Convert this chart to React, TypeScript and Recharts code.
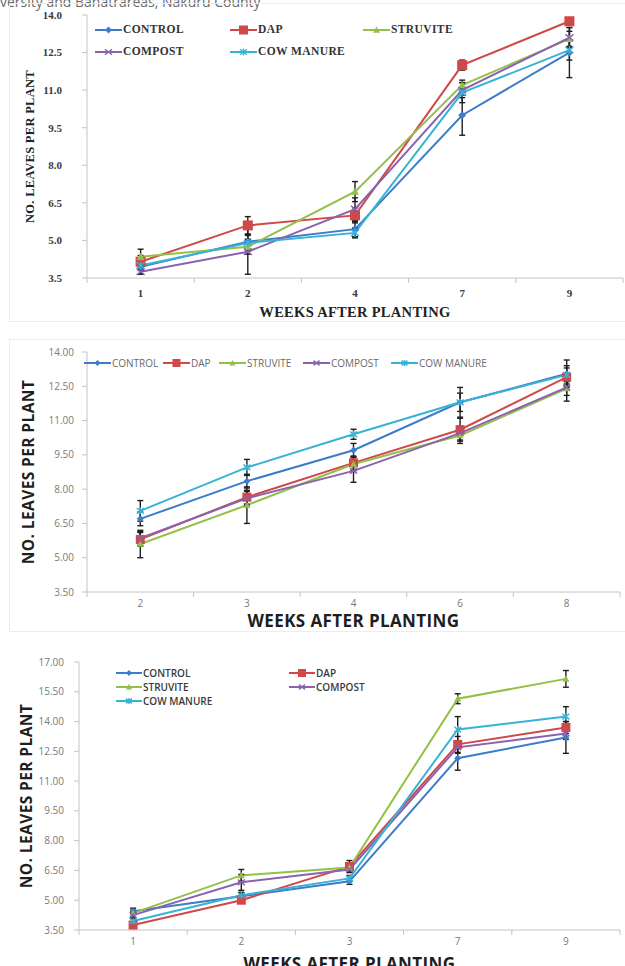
import React from 'react';
import { LineChart, Line, XAxis, YAxis, ErrorBar, Legend } from 'recharts';

// shared series definitions
const seriesKeys = ['control', 'dap', 'struvite', 'compost', 'cow'];
const seriesNames = ['CONTROL', 'DAP', 'STRUVITE', 'COMPOST', 'COW MANURE'];
const seriesColors = ['#3d7cc9', '#d04848', '#93c047', '#8a62b0', '#36b3d6'];
const seriesShapes = ['diamond', 'square', 'triangle', 'x', 'star'];

// chart A (top)
const weeksA = ['1', '2', '4', '7', '9'];
const controlA = [3.95, 4.95, 5.45, 10.0, 12.5];
const dapA = [4.15, 5.6, 6.0, 12.0, 13.75];
const struviteA = [4.35, 4.75, 6.95, 11.2, 13.05];
const compostA = [3.75, 4.55, 6.25, 11.0, 13.1];
const cowA = [4.0, 4.9, 5.3, 10.9, 12.6];
const controlErrA = [0.3, 0.3, 0.3, 0.8, 1.0];
const dapErrA = [0.25, 0.35, 0.3, 0.2, 0.1];
const struviteErrA = [0.3, 0.3, 0.4, 0.2, 0.3];
const compostErrA = [0.1, 0.9, 0.45, 0.3, 0.4];
const cowErrA = [0.2, 0.3, 0.2, 0.4, 0.4];
const yTicksA = [3.5, 5.0, 6.5, 8.0, 9.5, 11.0, 12.5, 14.0];

// chart B (middle)
const weeksB = ['2', '3', '4', '6', '8'];
const controlB = [6.7, 8.35, 9.7, 11.8, 13.05];
const dapB = [5.8, 7.65, 9.15, 10.6, 12.9];
const struviteB = [5.6, 7.3, 9.1, 10.35, 12.4];
const compostB = [5.85, 7.6, 8.8, 10.45, 12.45];
const cowB = [7.05, 8.95, 10.4, 11.8, 13.0];
const controlErrB = [0.3, 0.3, 0.3, 0.65, 0.6];
const dapErrB = [0.3, 0.3, 0.3, 0.5, 0.4];
const struviteErrB = [0.6, 0.8, 0.3, 0.35, 0.3];
const compostErrB = [0.3, 0.3, 0.5, 0.3, 0.6];
const cowErrB = [0.45, 0.35, 0.22, 0.4, 0.4];
const yTicksB = [3.5, 5.0, 6.5, 8.0, 9.5, 11.0, 12.5, 14.0];

// chart C (bottom)
const weeksC = ['1', '2', '3', '7', '9'];
const controlC = [4.45, 5.2, 5.95, 12.15, 13.2];
const dapC = [3.75, 5.0, 6.7, 12.85, 13.7];
const struviteC = [4.35, 6.25, 6.65, 15.15, 16.15];
const compostC = [4.25, 5.9, 6.55, 12.7, 13.4];
const cowC = [3.95, 5.25, 6.1, 13.6, 14.25];
const controlErrC = [0.15, 0.15, 0.15, 0.6, 0.8];
const dapErrC = [0.15, 0.15, 0.3, 0.4, 0.3];
const struviteErrC = [0.15, 0.3, 0.15, 0.25, 0.42];
const compostErrC = [0.15, 0.4, 0.15, 0.3, 0.3];
const cowErrC = [0.15, 0.15, 0.15, 0.65, 0.5];
const yTicksC = [3.5, 5.0, 6.5, 8.0, 9.5, 11.0, 12.5, 14.0, 15.5, 17.0];

const Marker = ({ cx, cy, shape, color, s }: any) => {
  if (cx == null || cy == null) return null;
  switch (shape) {
    case 'diamond':
      return <path d={`M${cx},${cy - s} L${cx + s},${cy} L${cx},${cy + s} L${cx - s},${cy} Z`} fill={color} />;
    case 'square':
      return <rect x={cx - s} y={cy - s} width={2 * s} height={2 * s} fill={color} />;
    case 'triangle':
      return <path d={`M${cx},${cy - s} L${cx + s},${cy + s * 0.8} L${cx - s},${cy + s * 0.8} Z`} fill={color} />;
    case 'x':
      return (
        <path d={`M${cx - s},${cy - s * 0.8} L${cx + s},${cy + s * 0.8} M${cx + s},${cy - s * 0.8} L${cx - s},${cy + s * 0.8}`}
          stroke={color} strokeWidth={1.4} fill="none" />
      );
    default:
      return (
        <path d={`M${cx - s},${cy - s * 0.8} L${cx + s},${cy + s * 0.8} M${cx + s},${cy - s * 0.8} L${cx - s},${cy + s * 0.8} M${cx},${cy - s} L${cx},${cy + s}`}
          stroke={color} strokeWidth={1.4} fill="none" />
      );
  }
};

const buildSeries = (values: number[][], errors: number[][]) =>
  seriesKeys.map((key, i) => ({
    key,
    name: seriesNames[i],
    color: seriesColors[i],
    shape: seriesShapes[i],
    values: values[i],
    errors: errors[i],
  }));

const buildRows = (weeks: string[], series: any[]) =>
  weeks.map((w, i) => {
    const row: any = { pos: i + 1, week: w };
    series.forEach((s) => {
      row[s.key] = s.values[i];
      row[s.key + 'Err'] = s.errors[i];
    });
    return row;
  });

const LegendBox = ({ series, st, columns, rowH, iconW, markerSize }: any) => (
  <div style={{ display: 'grid', gridTemplateColumns: columns, alignItems: 'center' }}>
    {series.map((s: any) => (
      <div key={s.key} style={{ display: 'flex', alignItems: 'center', height: rowH, whiteSpace: 'nowrap' }}>
        <svg width={iconW} height={12} style={{ flex: 'none' }}>
          <line x1={0} y1={6} x2={iconW} y2={6} stroke={s.color} strokeWidth={2} />
          <Marker cx={iconW / 2} cy={6} shape={s.shape} color={s.color} s={s.shape === 'square' ? markerSize + 1 : markerSize} />
        </svg>
        <span style={{
          marginLeft: 1, fontFamily: st.font, fontSize: st.legendSize, fontWeight: st.legendWeight,
          color: st.legendFill, letterSpacing: st.legendSpacing, lineHeight: 1,
        }}>{s.name}</span>
      </div>
    ))}
  </div>
);

const LeafChart = (p: any) => {
  const rows = buildRows(p.weeks, p.series);
  const st = p.st;
  const xTicks = [0.5, 1, 1.5, 2, 2.5, 3, 3.5, 4, 4.5, 5, 5.5];
  const renderTick = (t: any) => {
    const v = t.payload.value;
    if (Number.isInteger(v)) {
      return (
        <text x={t.x} y={t.y + p.catDy} textAnchor="middle" fontFamily={st.font} fontSize={st.tickSize}
          fontWeight={st.tickWeight} fill={st.tickFill}>{p.weeks[v - 1]}</text>
      );
    }
    return <line x1={t.x} y1={t.y} x2={t.x} y2={t.y + 5} stroke="#c4c4c4" strokeWidth={1} />;
  };
  return (
    <div style={{ position: 'absolute', left: 0, top: p.top }}>
      <LineChart width={625} height={p.height} data={rows}
        margin={{ top: p.marginTop, right: p.marginRight, left: 0, bottom: 0 }}>
        <XAxis dataKey="pos" type="number" domain={[0.5, 5.5]} ticks={xTicks} interval={0}
          height={p.xAxisHeight} tickSize={0} tickMargin={0} tickLine={false}
          axisLine={{ stroke: '#c4c4c4', strokeWidth: 1 }} tick={renderTick}
          label={{
            value: 'WEEKS AFTER PLANTING', position: 'insideBottom', offset: p.xTitleOffset,
            fontFamily: st.font, fontSize: st.titleSize, fontWeight: 'bold', fill: st.titleFill,
            style: { letterSpacing: st.titleSpacing },
          }} />
        <YAxis type="number" domain={p.yDomain} ticks={p.yTicks} allowDataOverflow interval={0}
          width={p.yAxisWidth} tickSize={5} tickMargin={p.tickMargin}
          tickFormatter={(v: number) => v.toFixed(p.decimals)}
          axisLine={{ stroke: '#c4c4c4', strokeWidth: 1 }} tickLine={{ stroke: '#c4c4c4' }}
          tick={{ fontFamily: st.font, fontSize: st.tickSize, fontWeight: st.tickWeight, fill: st.tickFill }}
          label={{
            value: 'NO. LEAVES PER PLANT', angle: -90, position: 'insideLeft', offset: p.yTitleX,
            fontFamily: st.font, fontSize: st.yTitleSize, fontWeight: 'bold', fill: st.titleFill,
            style: { textAnchor: 'middle', letterSpacing: st.titleSpacing },
          }} />
        <Legend layout="horizontal" verticalAlign="middle" align="center"
          wrapperStyle={{ left: p.legend.left, top: p.legend.top, width: p.legend.width }}
          content={() => (
            <LegendBox series={p.series} st={st} columns={p.legend.columns} rowH={p.legend.rowH}
              iconW={p.legend.iconW} markerSize={p.markerSize - 0.5} />
          )} />
        {p.series.map((s: any) => (
          <Line key={s.key} dataKey={s.key} name={s.name} stroke={s.color} strokeWidth={2}
            isAnimationActive={false} legendType="none"
            dot={(d: any) => (
              <Marker key={`${s.key}-${d.index}`} cx={d.cx} cy={d.cy} shape={s.shape} color={s.color}
                s={s.shape === 'square' ? p.markerSize + 1 : p.markerSize} />
            )}
            activeDot={false}>
            <ErrorBar dataKey={s.key + 'Err'} direction="y" width={3} strokeWidth={1.4} stroke="#1e1e1e" />
          </Line>
        ))}
      </LineChart>
    </div>
  );
};

const serifStyle = {
  font: '"Liberation Serif", "Times New Roman", serif',
  tickSize: 11, tickWeight: 'bold', tickFill: '#3a3a3a',
  legendSize: 11.5, legendWeight: 'bold', legendFill: '#333', legendSpacing: 0.4,
  titleSize: 14.5, yTitleSize: 12.5, titleFill: '#222', titleSpacing: 0.3,
};
const sansStyleB = {
  font: '"Open Sans", Arial, sans-serif',
  tickSize: 10, tickWeight: 'normal', tickFill: '#7a7a7a',
  legendSize: 10, legendWeight: 'normal', legendFill: '#6a6a6a', legendSpacing: 0,
  titleSize: 17, yTitleSize: 15.5, titleFill: '#1e1e1e', titleSpacing: 0.4,
};
const sansStyleC = { ...sansStyleB, legendFill: '#3a3a3a', legendWeight: 600 };

export default function App() {
  const seriesA = buildSeries([controlA, dapA, struviteA, compostA, cowA],
    [controlErrA, dapErrA, struviteErrA, compostErrA, cowErrA]);
  const seriesB = buildSeries([controlB, dapB, struviteB, compostB, cowB],
    [controlErrB, dapErrB, struviteErrB, compostErrB, cowErrB]);
  const seriesC = buildSeries([controlC, dapC, struviteC, compostC, cowC],
    [controlErrC, dapErrC, struviteErrC, compostErrC, cowErrC]);

  return (
    <div style={{ position: 'absolute', left: 0, top: 0, width: 625, height: 966, overflow: 'hidden', background: '#fff' }}>
      <svg width={625} height={20} style={{ position: 'absolute', left: 0, top: 0 }}>
        <text x={0} y={7} fontFamily='"Open Sans", Arial, sans-serif' fontSize={14} fill="#6a6a6a">
          versity and Banatrareas, Nakuru County
        </text>
      </svg>
      <div style={{ position: 'absolute', left: 9, top: 3, width: 625, height: 317, border: '1px solid #ececec' }} />
      <div style={{ position: 'absolute', left: 9, top: 339, width: 625, height: 291, border: '1px solid #ececec' }} />

      <LeafChart top={0} height={320} marginTop={15} marginRight={2} yAxisWidth={87} xAxisHeight={42}
        yDomain={[3.5, 14]} yTicks={yTicksA} decimals={1} tickMargin={20} catDy={19}
        xTitleOffset={3} yTitleX={30} weeks={weeksA} series={seriesA} st={serifStyle} markerSize={4}
        legend={{ left: 95, top: 19, width: 400, columns: '135px 133px 130px', rowH: 22, iconW: 27 }} />

      <LeafChart top={320} height={311} marginTop={32} marginRight={5} yAxisWidth={87} xAxisHeight={39}
        yDomain={[3.5, 14]} yTicks={yTicksB} decimals={2} tickMargin={8} catDy={15}
        xTitleOffset={4} yTitleX={28} weeks={weeksB} series={seriesB} st={sansStyleB} markerSize={3.5}
        legend={{ left: 84, top: 36, width: 440, columns: '79px 56px 84px 88px 120px', rowH: 14, iconW: 27 }} />

      <LeafChart top={631} height={335} marginTop={31} marginRight={5} yAxisWidth={79} xAxisHeight={36}
        yDomain={[3.5, 17]} yTicks={yTicksC} decimals={2} tickMargin={10} catDy={15}
        xTitleOffset={-4} yTitleX={26} weeks={weeksC} series={seriesC} st={sansStyleC} markerSize={3.5}
        legend={{ left: 116, top: 35, width: 300, columns: '173px 130px', rowH: 14, iconW: 26 }} />
    </div>
  );
}
